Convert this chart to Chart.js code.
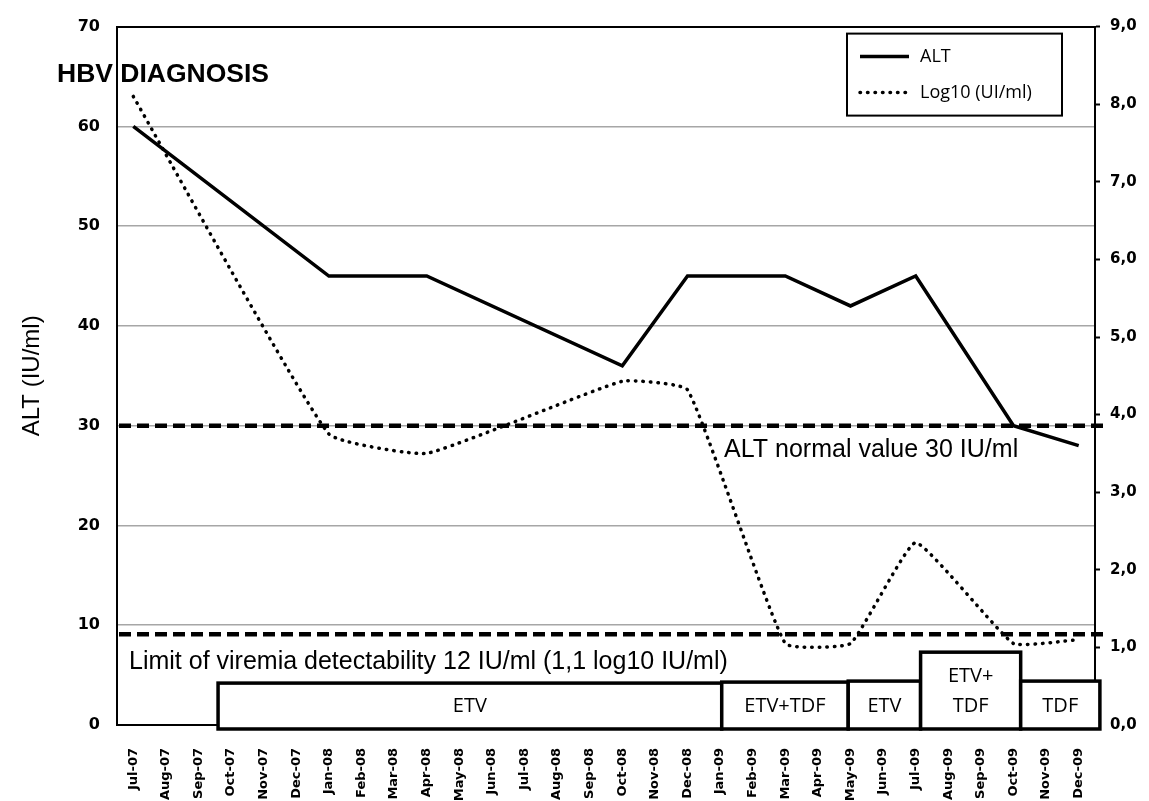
<!DOCTYPE html>
<html>
<head>
<meta charset="utf-8">
<script src="https://cdn.jsdelivr.net/npm/chart.js@4.4.0/dist/chart.umd.min.js"></script>
<style>
    html, body { margin: 0; padding: 0; background: #fff; }
    #wrap { width: 1149px; height: 801px; }
</style>
</head>
<body>
<div id="wrap"><canvas id="chart" width="1149" height="801"></canvas></div>
<script>

const months = [
    'Jul-07', 'Aug-07', 'Sep-07', 'Oct-07', 'Nov-07', 'Dec-07',
    'Jan-08', 'Feb-08', 'Mar-08', 'Apr-08', 'May-08', 'Jun-08',
    'Jul-08', 'Aug-08', 'Sep-08', 'Oct-08', 'Nov-08', 'Dec-08',
    'Jan-09', 'Feb-09', 'Mar-09', 'Apr-09', 'May-09', 'Jun-09',
    'Jul-09', 'Aug-09', 'Sep-09', 'Oct-09', 'Nov-09', 'Dec-09'
];

// ALT (IU/ml), left axis
const altValues = [
    60, null, null, null, null, null,
    45, null, null, 45, null, null,
    null, null, null, 36, null, 45,
    null, null, 45, null, 42, null,
    45, null, null, 30, null, 28
];

// viremia, log10 (UI/ml), right axis
const logValues = [
    8.1, null, null, null, null, null,
    3.75, null, null, 3.5, null, null,
    null, null, null, 4.43, null, 4.32,
    null, null, 1.05, null, 1.05, null,
    2.35, null, null, 1.05, null, 1.1
];

// treatment periods (month index along the x axis)
const treatments = ['ETV', 'ETV+TDF', 'ETV', 'ETV+\nTDF', 'TDF'];
const treatmentStart = [2.6, 18.05, 21.93, 24.15, 27.22];
const treatmentEnd = [18.05, 21.93, 24.15, 27.22, 29.65];
const treatmentTop = [4.2, 4.3, 4.4, 7.3, 4.4];

const altNormal = 30;        // IU/ml
const viremiaLimit = 1.17;   // log10 IU/ml

const leftTicks = [0, 10, 20, 30, 40, 50, 60, 70];
const rightTicks = [0, 1, 2, 3, 4, 5, 6, 7, 8, 9];

const annotations = {
    id: 'annotations',
    afterDraw: (chart) => {
        const ctx = chart.ctx;
        const area = chart.chartArea;
        const x = chart.scales.x;
        const yL = chart.scales.y;
        const yR = chart.scales.y1;

        ctx.save();

        // reference lines
        ctx.strokeStyle = '#000';
        ctx.lineWidth = 4.5;
        ctx.setLineDash([12, 6]);
        let yNorm = yL.getPixelForValue(altNormal);
        let yVir = yR.getPixelForValue(viremiaLimit);
        ctx.beginPath();
        ctx.moveTo(area.left + 2, yNorm);
        ctx.lineTo(area.right + 10, yNorm);
        ctx.moveTo(area.left + 2, yVir);
        ctx.lineTo(area.right + 10, yVir);
        ctx.stroke();
        ctx.setLineDash([]);

        ctx.fillStyle = '#000';
        ctx.textBaseline = 'middle';
        ctx.textAlign = 'left';
        ctx.font = '25px "Liberation Sans"';
        ctx.fillText('ALT normal value 30 IU/ml', x.getPixelForValue(18) + 4, yNorm + 24);
        ctx.fillText('Limit of viremia detectability 12 IU/ml (1,1 log10 IU/ml)', area.left + 12, yVir + 28);

        ctx.font = 'bold 26.5px "Liberation Sans"';
        ctx.fillText('HBV DIAGNOSIS', area.left - 60, yL.getPixelForValue(65.2));

        // treatment boxes
        ctx.lineWidth = 3.5;
        ctx.font = '20px "Open Sans"';
        ctx.textAlign = 'center';
        for (let i = 0; i < treatments.length; i++) {
            let x0 = x.getPixelForValue(treatmentStart[i]);
            let x1 = x.getPixelForValue(treatmentEnd[i]);
            let y0 = yL.getPixelForValue(treatmentTop[i]);
            let y1 = yL.getPixelForValue(-0.4);
            ctx.fillStyle = '#fff';
            ctx.fillRect(x0, y0, x1 - x0, y1 - y0);
            ctx.strokeRect(x0, y0, x1 - x0, y1 - y0);
            ctx.fillStyle = '#000';
            let lines = treatments[i].split('\n');
            let yText = yL.getPixelForValue(1.9);
            for (let j = lines.length - 1; j >= 0; j--) {
                ctx.fillText(lines[j], (x0 + x1) / 2, yText);
                yText -= 30;
            }
        }

        // legend box
        let lx = area.right - 248;
        let ly = area.top + 7;
        ctx.fillStyle = '#fff';
        ctx.fillRect(lx, ly, 215, 82);
        ctx.lineWidth = 2;
        ctx.strokeRect(lx, ly, 215, 82);
        ctx.textAlign = 'left';
        ctx.font = '18px "Open Sans"';
        chart.data.datasets.forEach((ds, k) => {
            let yy = ly + 23 + k * 36;
            ctx.strokeStyle = '#000';
            ctx.lineWidth = ds.borderWidth;
            ctx.lineCap = ds.borderCapStyle;
            ctx.setLineDash(ds.borderDash || []);
            ctx.beginPath();
            ctx.moveTo(lx + 13, yy);
            ctx.lineTo(lx + 62, yy);
            ctx.stroke();
            ctx.setLineDash([]);
            ctx.fillStyle = '#000';
            ctx.fillText(ds.label, lx + 73, yy);
        });

        ctx.restore();
    }
};

const config = {
    type: 'line',
    data: {
        labels: months,
        datasets: [
            {
                label: 'ALT',
                data: altValues,
                yAxisID: 'y',
                borderColor: '#000',
                borderWidth: 3.5,
                borderCapStyle: 'butt',
                pointRadius: 0,
                spanGaps: true,
                tension: 0
            },
            {
                label: 'Log10 (UI/ml)',
                data: logValues,
                yAxisID: 'y1',
                borderColor: '#000',
                borderWidth: 3.5,
                borderDash: [0.5, 7],
                borderCapStyle: 'round',
                pointRadius: 0,
                spanGaps: true,
                tension: 0.12
            }
        ]
    },
    options: {
        responsive: false,
        animation: false,
        layout: {
            padding: { top: 20, left: 0, right: 0, bottom: 0 }
        },
        plugins: {
            legend: { display: false },
            tooltip: { enabled: false }
        },
        scales: {
            x: {
                offset: true,
                grid: { display: false },
                border: { display: true, color: '#000', width: 2 },
                ticks: {
                    autoSkip: false,
                    minRotation: 90,
                    maxRotation: 90,
                    padding: 15,
                    color: '#000',
                    font: { family: 'DejaVu Sans', weight: 'bold', size: 13 }
                },
                afterFit: (scale) => { scale.height = 76; }
            },
            y: {
                position: 'left',
                min: 0,
                max: 70,
                afterBuildTicks: (scale) => { scale.ticks = leftTicks.map(v => ({ value: v })); },
                grid: {
                    drawTicks: false,
                    color: (c) => c.tick.value === 70 ? '#000' : (c.tick.value === 0 ? 'rgba(0,0,0,0)' : '#a6a6a6'),
                    lineWidth: (c) => c.tick.value === 70 ? 2 : 1.5
                },
                border: { display: true, color: '#000', width: 2 },
                ticks: {
                    padding: 17,
                    color: '#000',
                    font: { family: 'DejaVu Sans', weight: 'bold', size: 16 }
                },
                title: {
                    display: true,
                    text: 'ALT (IU/ml)',
                    color: '#000',
                    padding: { top: 18, bottom: 0 },
                    font: { family: 'Liberation Sans', size: 24 }
                },
                afterFit: (scale) => { scale.width = 117; }
            },
            y1: {
                position: 'right',
                min: 0,
                max: 9,
                afterBuildTicks: (scale) => { scale.ticks = rightTicks.map(v => ({ value: v })); },
                grid: {
                    drawOnChartArea: false,
                    drawTicks: true,
                    tickLength: 5,
                    tickColor: '#000',
                    tickWidth: 2
                },
                border: { display: true, color: '#000', width: 2 },
                ticks: {
                    padding: 10,
                    color: '#000',
                    font: { family: 'DejaVu Sans', weight: 'bold', size: 15 },
                    callback: (value) => value.toFixed(1).replace('.', ',')
                },
                afterFit: (scale) => { scale.width = 54; }
            }
        }
    },
    plugins: [annotations]
};

let chart = new Chart(document.getElementById('chart'), config);

</script>
</body>
</html>
